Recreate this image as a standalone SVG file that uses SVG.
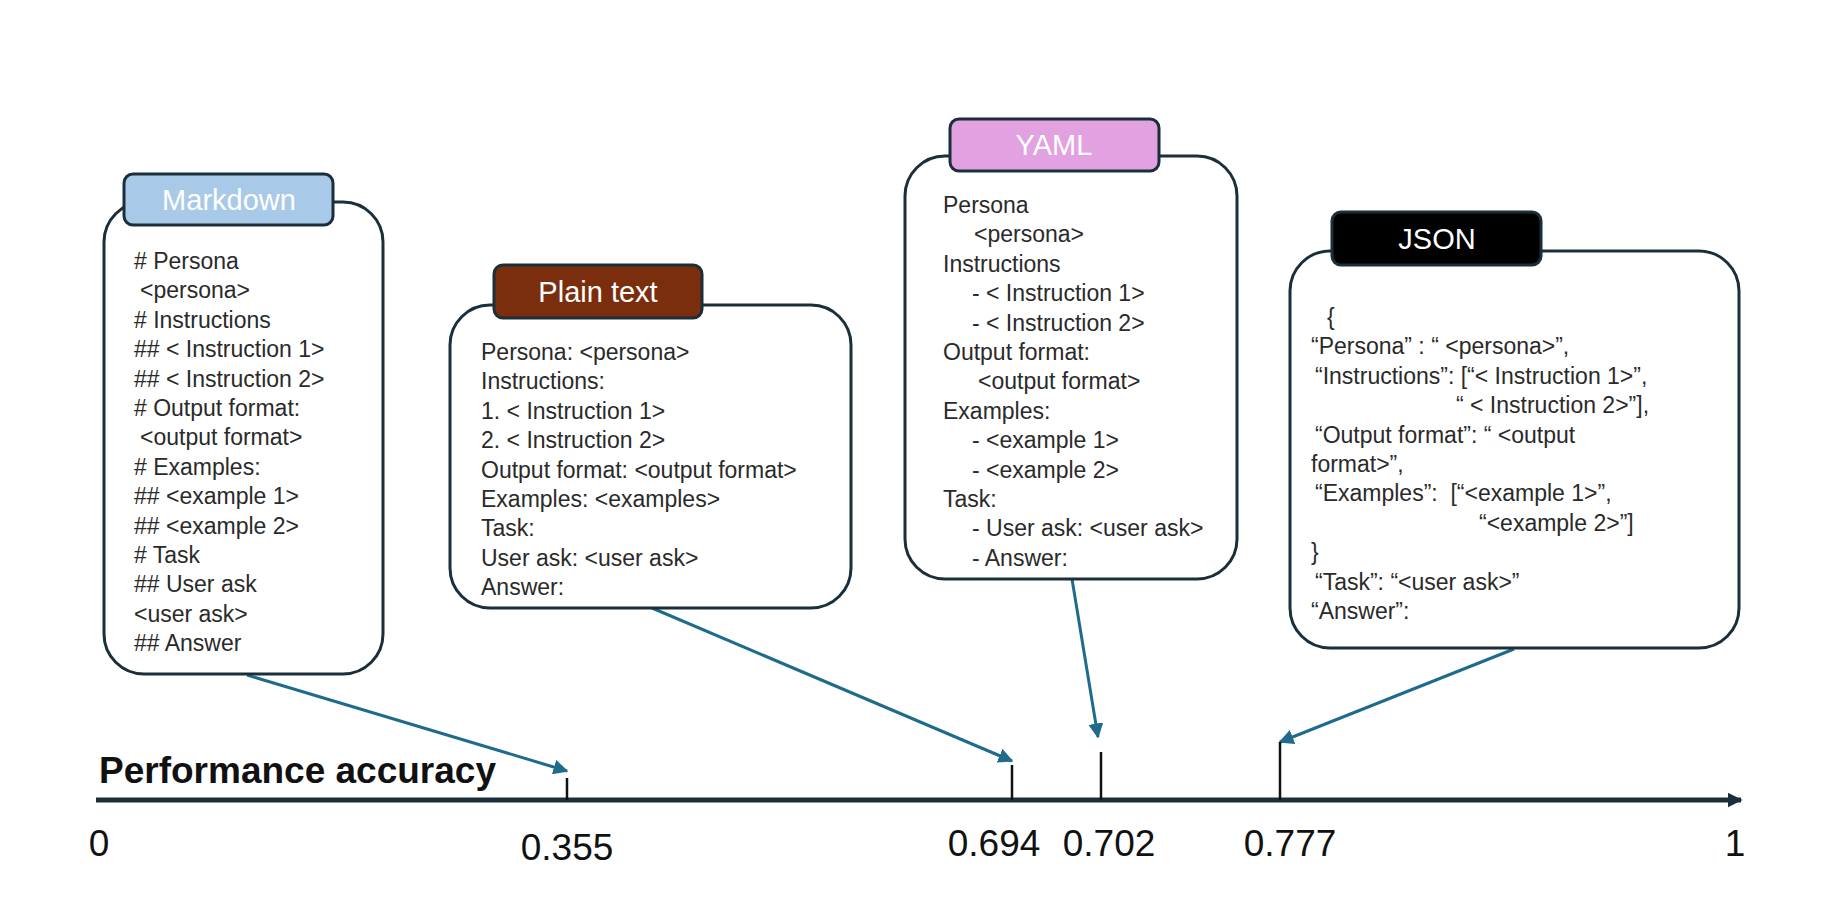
<svg xmlns="http://www.w3.org/2000/svg" width="1841" height="904" viewBox="0 0 1841 904">
<defs>
<style>
.box{fill:#fff;stroke:#1b2f3b;stroke-width:3}
.tab{stroke:#1b2f3b;stroke-width:3}
.tabt{font-family:"Liberation Sans",Arial,sans-serif;font-size:29px;fill:#fff;text-anchor:middle}
.t{font-family:"Liberation Sans",Arial,sans-serif;font-size:23px;fill:#2a2a2a}
.ax{font-family:"Liberation Sans",Arial,sans-serif;font-size:37px;fill:#111;text-anchor:middle}
.con{stroke:#1f6b8c;stroke-width:3;fill:none}
.tick{stroke:#111;stroke-width:2.5}
</style>
<marker id="ah" viewBox="0 0 10 10" refX="9" refY="5" markerWidth="5" markerHeight="5" orient="auto" markerUnits="strokeWidth">
<path d="M0,0 L10,5 L0,10 z" fill="#1f6b8c"/>
</marker>
<marker id="axh" viewBox="0 0 10 10" refX="9" refY="5" markerWidth="3" markerHeight="3" orient="auto" markerUnits="strokeWidth">
<path d="M0,0 L10,5 L0,10 z" fill="#1b2f3b"/>
</marker>
</defs>
<rect width="1841" height="904" fill="#fff"/>

<g id="connectors">
<line class="con" x1="247" y1="675" x2="567" y2="771" marker-end="url(#ah)"/>
<line class="con" x1="652" y1="608" x2="1012" y2="761" marker-end="url(#ah)"/>
<line class="con" x1="1072" y1="579" x2="1098" y2="737" marker-end="url(#ah)"/>
<line class="con" x1="1514" y1="649" x2="1280" y2="742" marker-end="url(#ah)"/>
</g>

<g id="axis">
<line x1="96" y1="800" x2="1741" y2="800" stroke="#1b2f3b" stroke-width="5" marker-end="url(#axh)"/>
<line class="tick" x1="567" y1="778" x2="567" y2="800"/>
<line class="tick" x1="1012" y1="765" x2="1012" y2="800"/>
<line class="tick" x1="1101" y1="752" x2="1101" y2="800"/>
<line class="tick" x1="1280" y1="742" x2="1280" y2="800"/>
<text x="99" y="783" font-family="Liberation Sans,Arial,sans-serif" font-size="37" font-weight="bold" fill="#111">Performance accuracy</text>
<text class="ax" x="99" y="856">0</text>
<text class="ax" x="567" y="860">0.355</text>
<text class="ax" x="994" y="856">0.694</text>
<text class="ax" x="1109" y="856">0.702</text>
<text class="ax" x="1290" y="856">0.777</text>
<text class="ax" x="1735" y="856">1</text>
</g>

<g id="markdown">
<rect class="box" x="104" y="202" width="279" height="472" rx="40"/>
<rect class="tab" x="124" y="174" width="209" height="51" rx="9" fill="#a9c9e9"/>
<text class="tabt" x="229" y="210">Markdown</text>
<text class="t" x="134" y="269">
<tspan x="134" dy="0"># Persona</tspan>
<tspan x="140" dy="29.4">&lt;persona&gt;</tspan>
<tspan x="134" dy="29.4"># Instructions</tspan>
<tspan x="134" dy="29.4">## &lt; Instruction 1&gt;</tspan>
<tspan x="134" dy="29.4">## &lt; Instruction 2&gt;</tspan>
<tspan x="134" dy="29.4"># Output format:</tspan>
<tspan x="140" dy="29.4">&lt;output format&gt;</tspan>
<tspan x="134" dy="29.4"># Examples:</tspan>
<tspan x="134" dy="29.4">## &lt;example 1&gt;</tspan>
<tspan x="134" dy="29.4">## &lt;example 2&gt;</tspan>
<tspan x="134" dy="29.4"># Task</tspan>
<tspan x="134" dy="29.4">## User ask</tspan>
<tspan x="134" dy="29.4">&lt;user ask&gt;</tspan>
<tspan x="134" dy="29.4">## Answer</tspan>
</text>
</g>

<g id="plaintext">
<rect class="box" x="450" y="305" width="401" height="303" rx="40"/>
<rect class="tab" x="494" y="265" width="208" height="53" rx="9" fill="#7b2e0e"/>
<text class="tabt" x="598" y="302">Plain text</text>
<text class="t" x="481" y="360">
<tspan x="481" dy="0">Persona: &lt;persona&gt;</tspan>
<tspan x="481" dy="29.4">Instructions:</tspan>
<tspan x="481" dy="29.4">1. &lt; Instruction 1&gt;</tspan>
<tspan x="481" dy="29.4">2. &lt; Instruction 2&gt;</tspan>
<tspan x="481" dy="29.4">Output format: &lt;output format&gt;</tspan>
<tspan x="481" dy="29.4">Examples: &lt;examples&gt;</tspan>
<tspan x="481" dy="29.4">Task:</tspan>
<tspan x="481" dy="29.4">User ask: &lt;user ask&gt;</tspan>
<tspan x="481" dy="29.4">Answer:</tspan>
</text>
</g>

<g id="yaml">
<rect class="box" x="905" y="156" width="332" height="423" rx="40"/>
<rect class="tab" x="950" y="119" width="209" height="52" rx="9" fill="#e2a1e0"/>
<text class="tabt" x="1054" y="155">YAML</text>
<text class="t" x="943" y="213">
<tspan x="943" dy="0">Persona</tspan>
<tspan x="974" dy="29.4">&lt;persona&gt;</tspan>
<tspan x="943" dy="29.4">Instructions</tspan>
<tspan x="972" dy="29.4">- &lt; Instruction 1&gt;</tspan>
<tspan x="972" dy="29.4">- &lt; Instruction 2&gt;</tspan>
<tspan x="943" dy="29.4">Output format:</tspan>
<tspan x="978" dy="29.4">&lt;output format&gt;</tspan>
<tspan x="943" dy="29.4">Examples:</tspan>
<tspan x="972" dy="29.4">- &lt;example 1&gt;</tspan>
<tspan x="972" dy="29.4">- &lt;example 2&gt;</tspan>
<tspan x="943" dy="29.4">Task:</tspan>
<tspan x="972" dy="29.4">- User ask: &lt;user ask&gt;</tspan>
<tspan x="972" dy="29.4">- Answer:</tspan>
</text>
</g>

<g id="json">
<rect class="box" x="1290" y="251" width="449" height="397" rx="40"/>
<rect class="tab" x="1332" y="212" width="209" height="53" rx="9" fill="#000"/>
<text class="tabt" x="1437" y="249">JSON</text>
<text class="t" x="1327" y="325">
<tspan x="1327" dy="0">{</tspan>
<tspan x="1311" dy="29.4">“Persona” : “ &lt;persona&gt;”,</tspan>
<tspan x="1315" dy="29.4">“Instructions”: [“&lt; Instruction 1&gt;”,</tspan>
<tspan x="1456" dy="29.4">“ &lt; Instruction 2&gt;”],</tspan>
<tspan x="1315" dy="29.4">“Output format”: “ &lt;output</tspan>
<tspan x="1311" dy="29.4">format&gt;”,</tspan>
<tspan x="1315" dy="29.4">“Examples”:&#160; [“&lt;example 1&gt;”,</tspan>
<tspan x="1479" dy="29.4">“&lt;example 2&gt;”]</tspan>
<tspan x="1311" dy="29.4">}</tspan>
<tspan x="1315" dy="29.4">“Task”: “&lt;user ask&gt;”</tspan>
<tspan x="1311" dy="29.4">“Answer”:</tspan>
</text>
</g>
</svg>
